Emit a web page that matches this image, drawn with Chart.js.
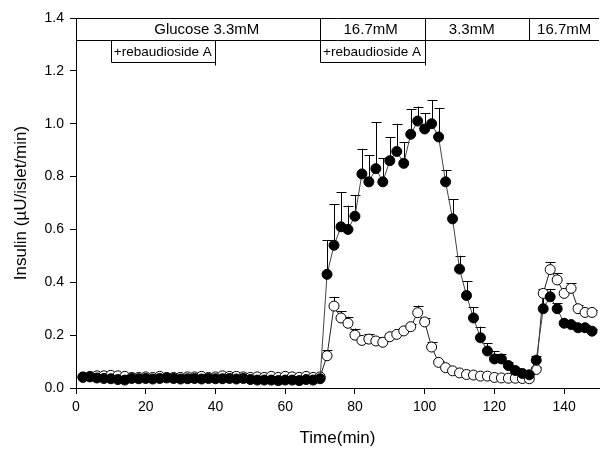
<!DOCTYPE html>
<html>
<head>
<meta charset="utf-8">
<script src="https://cdn.jsdelivr.net/npm/chart.js@4.4.1/dist/chart.umd.min.js"></script>
<style>
  html, body { margin: 0; padding: 0; background: #fff; }
  #wrap { width: 605px; height: 451px; }
</style>
</head>
<body>
<div id="wrap"><canvas id="chart" width="605" height="451"></canvas></div>
<script>
// time points (min)
const timeMin = [2, 4, 6, 8, 10, 12, 14, 16, 18, 20, 22, 24, 26, 28, 30, 32, 34, 36, 38, 40,
  42, 44, 46, 48, 50, 52, 54, 56, 58, 60, 62, 64, 66, 68, 70,
  72, 74, 76, 78, 80, 82, 84, 86, 88, 90, 92, 94, 96, 98, 100,
  102, 104, 106, 108, 110, 112, 114, 116, 118, 120, 122, 124, 126, 128, 130,
  132, 134, 136, 138, 140, 142, 144, 146, 148];

// filled circles: mean and upper error
const filledMean = [0.042, 0.042, 0.038, 0.036, 0.035, 0.032, 0.030, 0.036, 0.035, 0.036, 0.034, 0.036, 0.038, 0.036, 0.034, 0.035, 0.036, 0.034, 0.036, 0.035,
  0.035, 0.036, 0.034, 0.036, 0.032, 0.030, 0.030, 0.030, 0.028, 0.030, 0.030, 0.028, 0.032, 0.030, 0.035,
  0.43, 0.54, 0.61, 0.60, 0.65, 0.81, 0.78, 0.83, 0.78, 0.86, 0.895, 0.85, 0.96, 1.01, 0.98,
  1.00, 0.95, 0.78, 0.64, 0.45, 0.35, 0.265, 0.19, 0.14, 0.11, 0.11, 0.085, 0.066, 0.055, 0.05,
  0.105, 0.30, 0.345, 0.30, 0.245, 0.24, 0.228, 0.228, 0.215];
const filledErr = [0.004, 0.004, 0.004, 0.004, 0.004, 0.004, 0.004, 0.004, 0.004, 0.004, 0.004, 0.004, 0.004, 0.004, 0.004, 0.004, 0.004, 0.004, 0.004, 0.004,
  0.004, 0.004, 0.004, 0.004, 0.004, 0.004, 0.004, 0.004, 0.004, 0.004, 0.004, 0.004, 0.004, 0.004, 0.004,
  0.13, 0.155, 0.13, 0.09, 0.08, 0.095, 0.10, 0.175, 0.09, 0.09, 0.105, 0.08, 0.095, 0.055, 0.06,
  0.09, 0.11, 0.045, 0.075, 0.05, 0.054, 0.04, 0.042, 0.03, 0.03, 0.02, 0.015, 0.01, 0.01, 0.005,
  0.015, 0.06, 0.03, 0.02, 0.01, 0.01, 0.01, 0.01, 0.01];

// open circles: mean and upper error
const openMean = [0.040, 0.044, 0.046, 0.046, 0.048, 0.046, 0.044, 0.040, 0.040, 0.042, 0.040, 0.044, 0.040, 0.040, 0.040, 0.042, 0.042, 0.044, 0.040, 0.042,
  0.046, 0.044, 0.044, 0.042, 0.040, 0.042, 0.040, 0.044, 0.040, 0.044, 0.042, 0.040, 0.044, 0.040, 0.042,
  0.122, 0.31, 0.265, 0.245, 0.20, 0.18, 0.185, 0.178, 0.173, 0.194, 0.203, 0.216, 0.232, 0.285, 0.25,
  0.155, 0.097, 0.077, 0.065, 0.057, 0.051, 0.049, 0.045, 0.045, 0.040, 0.038, 0.037, 0.037, 0.036, 0.035,
  0.07, 0.358, 0.448, 0.409, 0.358, 0.377, 0.30, 0.286, 0.286];
const openErr = [0.004, 0.004, 0.004, 0.004, 0.004, 0.004, 0.004, 0.004, 0.004, 0.004, 0.004, 0.004, 0.004, 0.004, 0.004, 0.004, 0.004, 0.004, 0.004, 0.004,
  0.004, 0.004, 0.004, 0.004, 0.004, 0.004, 0.004, 0.004, 0.004, 0.004, 0.004, 0.004, 0.004, 0.004, 0.004,
  0.02, 0.035, 0.025, 0.025, 0.025, 0.015, 0.02, 0.015, 0.01, 0.015, 0.01, 0.01, 0.01, 0.027, 0.015,
  0.02, 0.005, 0.004, 0.004, 0.004, 0.004, 0.004, 0.004, 0.004, 0.004, 0.004, 0.004, 0.004, 0.004, 0.004,
  0.01, 0.016, 0.027, 0.025, 0.01, 0.02, 0.015, 0.01, 0.01];

const xTicks = [0, 20, 40, 60, 80, 100, 120, 140];

// glucose periods along the top band
const glucoseEdges = [70, 100, 130];
const glucoseLabels = ['Glucose 3.3mM', '16.7mM', '3.3mM', '16.7mM'];
const glucoseLabelAt = [37.5, 84.5, 113.5, 140];
// rebaudioside A periods
const rebStart = [10, 70];
const rebEnd = [40, 100];

const band = { top: 1.4, mid: 1.317, box: 1.232 };

const errorBars = {
  id: 'errorBars',
  beforeDatasetsDraw(chart) {
    const { ctx } = chart;
    const ys = chart.scales.y;
    ctx.save();
    ctx.strokeStyle = '#000';
    ctx.lineWidth = 1;
    chart.data.datasets.forEach((ds, di) => {
      const meta = chart.getDatasetMeta(di);
      meta.data.forEach((pt, i) => {
        const top = ys.getPixelForValue(ds.data[i].y + ds.errUp[i]);
        const px = Math.round(pt.x) + 0.5;
        ctx.beginPath();
        ctx.moveTo(px, pt.y);
        ctx.lineTo(px, top);
        ctx.moveTo(px - 5, Math.round(top) + 0.5);
        ctx.lineTo(px + 5, Math.round(top) + 0.5);
        ctx.stroke();
      });
    });
    ctx.restore();
  }
};

const topBand = {
  id: 'topBand',
  afterDraw(chart) {
    const { ctx } = chart;
    const xs = chart.scales.x, ys = chart.scales.y;
    const X = v => Math.round(xs.getPixelForValue(v)) + 0.5;
    const Y = v => Math.round(ys.getPixelForValue(v)) + 0.5;
    const line = (x1, y1, x2, y2) => {
      ctx.beginPath();
      ctx.moveTo(x1, y1);
      ctx.lineTo(x2, y2);
      ctx.stroke();
    };
    ctx.save();
    ctx.strokeStyle = '#000';
    ctx.lineWidth = 1;
    const left = xs.left, right = xs.right;
    line(left, Y(band.top), right, Y(band.top));
    line(left, Y(band.mid), right, Y(band.mid));
    glucoseEdges.forEach(e => line(X(e), Y(band.top), X(e), Y(band.mid)));
    rebStart.forEach((s, i) => {
      const e = rebEnd[i];
      line(X(s), Y(band.mid), X(s), Y(band.box));
      line(X(s), Y(band.box), X(e), Y(band.box));
      line(X(e), Y(band.mid), X(e), Y(band.box) + 3);
    });
    ctx.fillStyle = '#000';
    ctx.textBaseline = 'middle';
    ctx.font = '15px "Liberation Sans", Arial, sans-serif';
    ctx.textAlign = 'center';
    glucoseLabels.forEach((t, i) => {
      ctx.fillText(t, xs.getPixelForValue(glucoseLabelAt[i]), ys.getPixelForValue((band.top + band.mid) / 2) + 1);
    });
    ctx.font = '13.5px "Liberation Sans", Arial, sans-serif';
    ctx.textAlign = 'left';
    rebStart.forEach(s => {
      ctx.fillText('+rebaudioside A', xs.getPixelForValue(s) + 3, ys.getPixelForValue((band.mid + band.box) / 2) + 1);
    });
    ctx.restore();
  }
};

const tickFont = { family: '"Liberation Sans", Arial, sans-serif', size: 14 };
const titleFont = { family: '"Liberation Sans", Arial, sans-serif', size: 17 };

new Chart(document.getElementById('chart'), {
  type: 'line',
  data: {
    datasets: [{
      label: 'filled',
      data: timeMin.map((t, i) => ({ x: t, y: filledMean[i] })),
      errUp: filledErr,
      borderColor: '#444',
      borderWidth: 1,
      pointRadius: 5,
      pointBackgroundColor: '#000',
      pointBorderColor: '#000',
      pointBorderWidth: 1,
      order: 0
    }, {
      label: 'open',
      data: timeMin.map((t, i) => ({ x: t, y: openMean[i] })),
      errUp: openErr,
      borderColor: '#222',
      borderWidth: 1,
      pointRadius: 5,
      pointBackgroundColor: '#fff',
      pointBorderColor: '#000',
      pointBorderWidth: 1,
      order: 1
    }]
  },
  options: {
    responsive: false,
    animation: false,
    devicePixelRatio: 1,
    layout: { padding: { top: 18, right: 0, left: 0, bottom: 0 } },
    plugins: { legend: { display: false }, tooltip: { enabled: false } },
    scales: {
      x: {
        type: 'linear',
        min: 0,
        max: 150,
        afterBuildTicks(scale) { scale.ticks = xTicks.map(v => ({ value: v })); },
        afterFit(scale) { scale.height = 63; },
        grid: { drawOnChartArea: false, drawTicks: true, tickLength: 6, color: '#000' },
        border: { display: true, color: '#000', width: 1 },
        ticks: { color: '#000', font: tickFont, padding: 5, maxRotation: 0 },
        title: { display: true, text: 'Time(min)', color: '#000', font: titleFont, padding: { top: 0, bottom: 2 } }
      },
      y: {
        min: 0,
        max: 1.4,
        afterFit(scale) { scale.width = 76; },
        grid: { drawOnChartArea: false, drawTicks: true, tickLength: 6, color: '#000' },
        border: { display: true, color: '#000', width: 1 },
        ticks: { stepSize: 0.2, color: '#000', font: tickFont, padding: 6, callback: v => v.toFixed(1) },
        title: { display: true, text: 'Insulin (µU/islet/min)', color: '#000', font: titleFont, padding: { top: 11, bottom: 0 } }
      }
    }
  },
  plugins: [errorBars, topBand]
});
</script>
</body>
</html>
